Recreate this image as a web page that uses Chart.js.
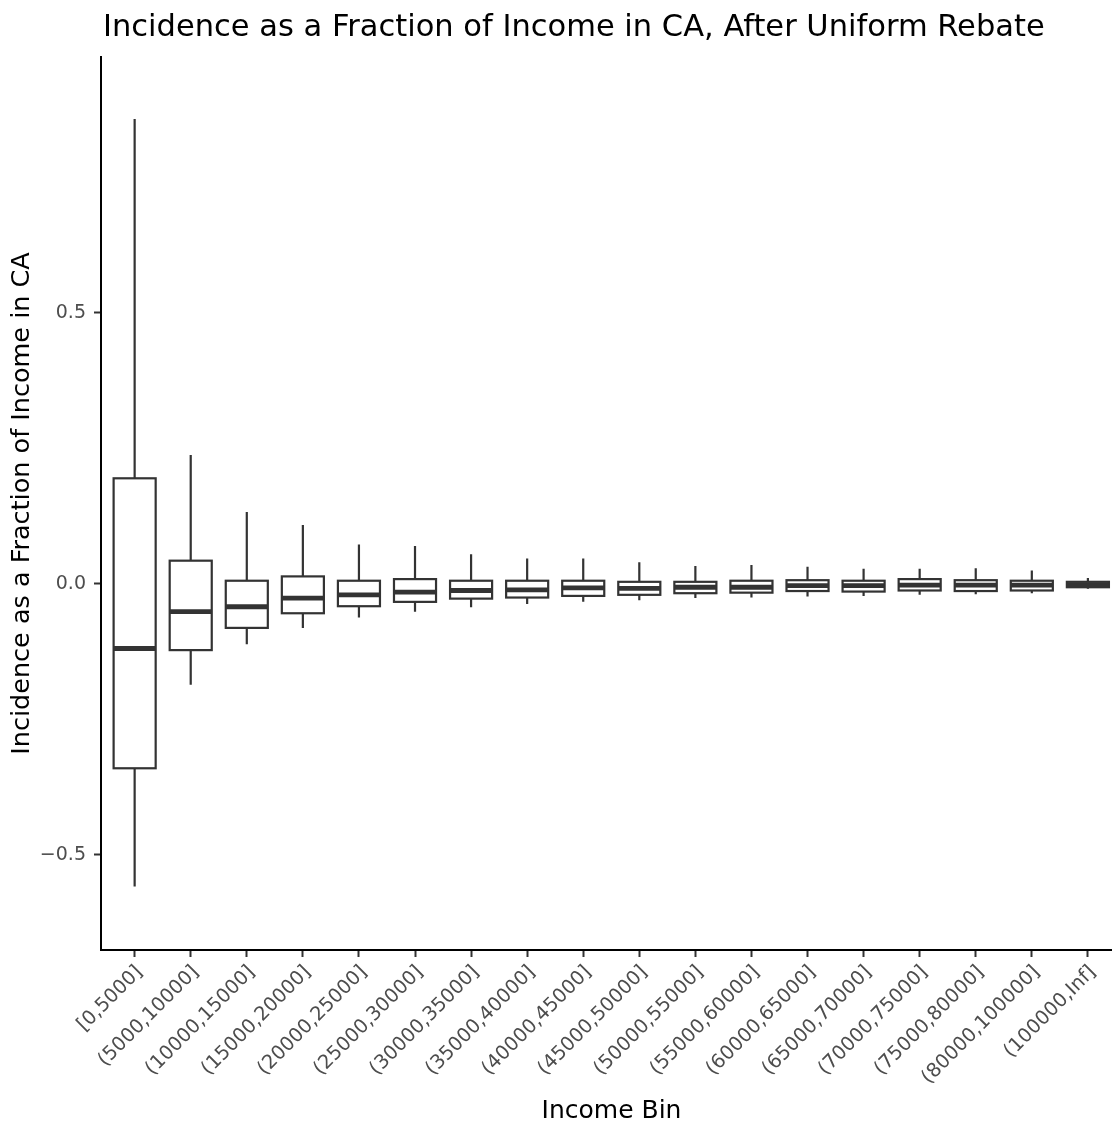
<!DOCTYPE html>
<html>
<head>
<meta charset="utf-8">
<script src="https://cdn.jsdelivr.net/npm/chart.js@4.4.0/dist/chart.umd.min.js"></script>
<style>
  html, body { margin: 0; padding: 0; background: #fff; }
  #wrap { width: 1112px; height: 1128px; }
</style>
</head>
<body>
<div id="wrap"><canvas id="boxCanvas" width="1112" height="1128"></canvas></div>
<script>
// income bins
let bins = ['[0,5000]', '(5000,10000]', '(10000,15000]', '(15000,20000]', '(20000,25000]',
    '(25000,30000]', '(30000,35000]', '(35000,40000]', '(40000,45000]', '(45000,50000]',
    '(50000,55000]', '(55000,60000]', '(60000,65000]', '(65000,70000]', '(70000,75000]',
    '(75000,80000]', '(80000,100000]', '(100000,Inf]'];

// box statistics
let whiskerHigh = [0.858, 0.238, 0.133, 0.109, 0.073, 0.070, 0.055, 0.047, 0.047, 0.040, 0.033, 0.035, 0.032, 0.028, 0.028, 0.029, 0.025, 0.011];
let upperQ = [0.195, 0.043, 0.006, 0.014, 0.006, 0.009, 0.006, 0.006, 0.006, 0.004, 0.004, 0.006, 0.007, 0.006, 0.009, 0.007, 0.006, 0.004];
let medians = [-0.119, -0.051, -0.042, -0.026, -0.020, -0.015, -0.012, -0.011, -0.007, -0.008, -0.006, -0.006, -0.003, -0.003, -0.002, -0.002, -0.002, -0.001];
let lowerQ = [-0.340, -0.122, -0.081, -0.054, -0.041, -0.033, -0.027, -0.025, -0.022, -0.020, -0.017, -0.016, -0.013, -0.014, -0.012, -0.013, -0.012, -0.006];
let whiskerLow = [-0.558, -0.186, -0.111, -0.081, -0.062, -0.051, -0.043, -0.037, -0.033, -0.030, -0.026, -0.025, -0.023, -0.022, -0.020, -0.019, -0.017, -0.009];

let yTicks = [-0.5, 0, 0.5];

let fontFamily = "'DejaVu Sans', sans-serif";
let lineColor = '#333333';

// draws the boxes and whiskers through the chart's scales
let boxPlugin = {
    id: 'boxes',
    afterDatasetsDraw: function (chart) {
        let ctx = chart.ctx;
        let xs = chart.scales.x;
        let ys = chart.scales.y;

        ctx.save();
        ctx.strokeStyle = lineColor;
        ctx.lineCap = 'butt';

        bins.forEach(function (label, i) {
            let cx = xs.getPixelForValue(i);
            let half = xs.getPixelForValue(i + 0.375) - cx;
            let yHi = ys.getPixelForValue(whiskerHigh[i]);
            let yQ3 = ys.getPixelForValue(upperQ[i]);
            let yMed = ys.getPixelForValue(medians[i]);
            let yQ1 = ys.getPixelForValue(lowerQ[i]);
            let yLo = ys.getPixelForValue(whiskerLow[i]);

            ctx.lineWidth = 2.2;
            ctx.beginPath();
            ctx.moveTo(cx, yHi);
            ctx.lineTo(cx, yQ3);
            ctx.moveTo(cx, yQ1);
            ctx.lineTo(cx, yLo);
            ctx.stroke();

            ctx.fillStyle = '#ffffff';
            ctx.fillRect(cx - half, yQ3, half * 2, yQ1 - yQ3);
            ctx.strokeRect(cx - half, yQ3, half * 2, yQ1 - yQ3);

            ctx.lineWidth = 4.8;
            ctx.beginPath();
            ctx.moveTo(cx - half, yMed);
            ctx.lineTo(cx + half, yMed);
            ctx.stroke();
        });

        ctx.restore();
    }
};

// plot title and axis titles
let titlePlugin = {
    id: 'titles',
    afterDraw: function (chart) {
        let ctx = chart.ctx;
        let area = chart.chartArea;

        ctx.save();
        ctx.fillStyle = '#000000';

        ctx.font = '30.5px ' + fontFamily;
        ctx.textAlign = 'left';
        ctx.textBaseline = 'alphabetic';
        ctx.fillText('Incidence as a Fraction of Income in CA, After Uniform Rebate', area.left + 2, 36);

        ctx.font = '25px ' + fontFamily;
        ctx.textAlign = 'center';
        ctx.textBaseline = 'middle';
        ctx.fillText('Income Bin', 611.5, 1111);

        ctx.font = '25.5px ' + fontFamily;
        ctx.translate(22, (area.top + area.bottom) / 2);
        ctx.rotate(-Math.PI / 2);
        ctx.fillText('Incidence as a Fraction of Income in CA', 0, 0);
        ctx.restore();
    }
};

let boxChartDraw = function () {
    let ctx = document.getElementById('boxCanvas').getContext('2d');

    window.boxChart = new Chart(ctx, {
        type: 'scatter',
        data: {
            datasets: [{
                data: medians.map(function (m, i) { return { x: i, y: m }; }),
                pointRadius: 0,
                pointHoverRadius: 0,
                showLine: false
            }]
        },
        options: {
            responsive: false,
            animation: false,
            layout: {
                padding: { top: 57, left: 0, right: 0, bottom: 0 }
            },
            plugins: {
                legend: { display: false },
                tooltip: { enabled: false }
            },
            scales: {
                x: {
                    type: 'linear',
                    min: -0.6,
                    max: 17.43,
                    afterBuildTicks: function (scale) {
                        scale.ticks = bins.map(function (b, i) { return { value: i }; });
                    },
                    afterFit: function (scale) {
                        scale.height = 178;
                    },
                    border: { display: true, color: '#000000', width: 2 },
                    grid: {
                        display: true,
                        drawOnChartArea: false,
                        drawTicks: true,
                        tickLength: 7,
                        tickWidth: 2,
                        tickColor: lineColor
                    },
                    ticks: {
                        autoSkip: false,
                        minRotation: 45,
                        maxRotation: 45,
                        padding: 4,
                        labelOffset: 5,
                        color: '#4d4d4d',
                        font: { family: fontFamily, size: 19.5 },
                        callback: function (value) {
                            return bins[value];
                        }
                    }
                },
                y: {
                    type: 'linear',
                    min: -0.6753,
                    max: 0.9723,
                    afterBuildTicks: function (scale) {
                        scale.ticks = yTicks.map(function (v) { return { value: v }; });
                    },
                    afterFit: function (scale) {
                        scale.width = 101;
                    },
                    border: { display: true, color: '#000000', width: 2 },
                    grid: {
                        display: true,
                        drawOnChartArea: false,
                        drawTicks: true,
                        tickLength: 7,
                        tickWidth: 2,
                        tickColor: lineColor
                    },
                    ticks: {
                        padding: 8,
                        color: '#4d4d4d',
                        font: { family: fontFamily, size: 19 },
                        callback: function (value) {
                            if (value === 0) {
                                return '0.0';
                            }
                            return (value < 0 ? '\u2212' : '') + Math.abs(value).toFixed(1);
                        }
                    }
                }
            }
        },
        plugins: [boxPlugin, titlePlugin]
    });
};

boxChartDraw();
</script>
</body>
</html>
